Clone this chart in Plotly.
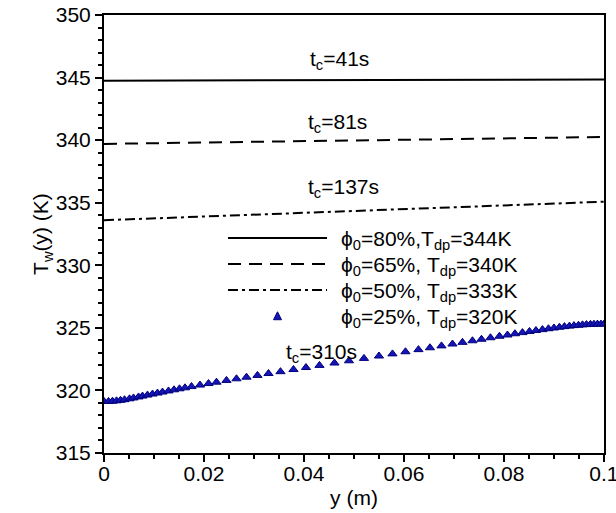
import plotly.graph_objects as go

# Wall temperature profiles T_w(y) for four inlet humidities
y_line = [0.0, 0.05, 0.1]
tw_80 = [344.75, 344.80, 344.85]
tw_65 = [339.70, 339.98, 340.25]
tw_50 = [333.60, 334.35, 335.08]

y_25 = [0.0000, 0.0009, 0.0017, 0.0025, 0.0033, 0.0041, 0.0051, 0.0059, 0.0069, 0.0077,
        0.0087, 0.0097, 0.0107, 0.0117, 0.0129, 0.0140, 0.0151, 0.0162, 0.0175, 0.0192,
        0.0209, 0.0225, 0.0245, 0.0265, 0.0285, 0.0307, 0.0329, 0.0353, 0.0379, 0.0404,
        0.0431, 0.0461, 0.0490, 0.0520, 0.0550, 0.0577, 0.0603, 0.0629, 0.0652, 0.0675,
        0.0697, 0.0717, 0.0737, 0.0755, 0.0773, 0.0791, 0.0807, 0.0822, 0.0837, 0.0851,
        0.0864, 0.0877, 0.0889, 0.0900, 0.0911, 0.0921, 0.0931, 0.0940, 0.0949, 0.0957,
        0.0965, 0.0973, 0.0980, 0.0987, 0.0994, 0.1000]
tw_25 = [319.12, 319.12, 319.14, 319.17, 319.21, 319.26, 319.33, 319.40, 319.48, 319.55,
         319.63, 319.71, 319.79, 319.87, 319.96, 320.05, 320.13, 320.21, 320.31, 320.43,
         320.55, 320.66, 320.80, 320.93, 321.06, 321.20, 321.35, 321.50, 321.67, 321.83,
         322.00, 322.19, 322.37, 322.56, 322.75, 322.92, 323.09, 323.26, 323.41, 323.56,
         323.71, 323.84, 323.97, 324.09, 324.21, 324.33, 324.43, 324.53, 324.62, 324.71,
         324.79, 324.86, 324.93, 324.99, 325.05, 325.10, 325.14, 325.18, 325.21, 325.24,
         325.26, 325.28, 325.29, 325.30, 325.30, 325.30]

names = ["ϕ<sub>0</sub>=80%,T<sub>dp</sub>=344K",
         "ϕ<sub>0</sub>=65%, T<sub>dp</sub>=340K",
         "ϕ<sub>0</sub>=50%, T<sub>dp</sub>=333K",
         "ϕ<sub>0</sub>=25%, T<sub>dp</sub>=320K"]

# condensation times labelled above each curve
tc_labels = ["t<sub>c</sub>=41s", "t<sub>c</sub>=81s", "t<sub>c</sub>=137s", "t<sub>c</sub>=310s"]
tc_x = [0.0472, 0.0468, 0.0480, 0.0436]
tc_y = [346.4, 341.4, 336.2, 323.0]

x_ticks = [0, 0.02, 0.04, 0.06, 0.08, 0.1]
x_ticktext = ["0", "0.02", "0.04", "0.06", "0.08", "0.1"]
y_ticks = [315, 320, 325, 330, 335, 340, 345, 350]

FONT = dict(family="Liberation Sans, Arial, sans-serif", size=21, color="black")
BLUE = "#1515b5"

line_styles = [dict(color="black", width=2),
               dict(color="black", width=2, dash="13px,8px"),
               dict(color="black", width=2, dash="10px,4px,3px,4px")]

fig = go.Figure()
for yy, st, nm in zip([tw_80, tw_65, tw_50], line_styles, names[:3]):
    fig.add_trace(go.Scatter(x=y_line, y=yy, mode="lines", name=nm, line=st,
                             showlegend=False))
fig.add_trace(go.Scatter(x=y_25, y=tw_25, mode="markers", name=names[3], showlegend=False,
                         marker=dict(symbol="triangle-up", size=8, color=BLUE,
                                     line=dict(color="#00007a", width=1))))

for txt, xv, yv in zip(tc_labels, tc_x, tc_y):
    fig.add_annotation(x=xv, y=yv, text=txt, showarrow=False, font=FONT)

# key drawn inside the axes box, paper coordinates
key_x0, key_x1, key_text_x = 0.248, 0.446, 0.470
key_rows = [0.491, 0.4315, 0.372, 0.3125]
for i, (nm, ry) in enumerate(zip(names, key_rows)):
    if i < 3:
        st = line_styles[i]
        fig.add_shape(type="line", xref="paper", yref="paper",
                      x0=key_x0, x1=key_x1, y0=ry, y1=ry,
                      line=dict(color=st["color"], width=st["width"],
                                dash=st.get("dash", "solid")))
    else:
        cx = (key_x0 + key_x1) / 2
        hw, hh = 4.0 / 500, 3.6 / 438
        fig.add_shape(type="path", xref="paper", yref="paper",
                      path=f"M {cx - hw} {ry - hh} L {cx + hw} {ry - hh} L {cx} {ry + hh * 1.2} Z",
                      fillcolor=BLUE, line=dict(color="#00007a", width=1))
    fig.add_annotation(xref="paper", yref="paper", x=key_text_x, y=ry - 0.005,
                       xanchor="left", yanchor="middle", text=nm,
                       showarrow=False, font=FONT)

fig.update_layout(
    width=616, height=513,
    margin=dict(l=104, r=12, t=15, b=60),
    paper_bgcolor="white", plot_bgcolor="white",
    font=FONT, showlegend=False,
    xaxis=dict(range=[0, 0.10001], tickvals=x_ticks, ticktext=x_ticktext,
               ticks="outside", ticklen=7, tickwidth=1.5, tickcolor="black",
               ticklabelstandoff=-6, ticklabeloverflow="allow",
               minor=dict(dtick=0.005, ticks="outside", ticklen=4, tickcolor="black"),
               showline=True, linecolor="black", linewidth=2, mirror=True,
               showgrid=False, zeroline=False, automargin=False,
               title=dict(text="y (m)", font=FONT, standoff=6)),
    yaxis=dict(range=[315, 350], tickvals=y_ticks,
               ticks="outside", ticklen=7, tickwidth=1.5, tickcolor="black",
               minor=dict(dtick=1, ticks="outside", ticklen=4, tickcolor="black"),
               showline=True, linecolor="black", linewidth=2, mirror=True,
               showgrid=False, zeroline=False, automargin=False,
               title=dict(text="T<sub>w</sub>(y) (K)", font=FONT, standoff=0)),
)

fig.write_html("out.html")
